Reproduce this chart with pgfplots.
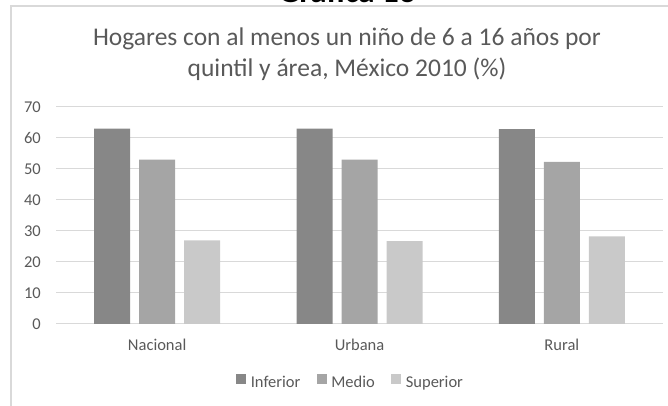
\documentclass[border=0pt]{standalone}
\usepackage{pgfplots}
\pgfplotsset{compat=1.18}
\usepackage{fontspec}
\setmainfont{Carlito}
\definecolor{txtgray}{HTML}{595959}
\definecolor{gridgray}{HTML}{D9D9D9}
\definecolor{cInf}{HTML}{878787}
\definecolor{cMed}{HTML}{A5A5A5}
\definecolor{cSup}{HTML}{C9C9C9}
\pgfplotstableread{
x inf med sup
0 63.0 53.0 27.0
1 63.0 53.0 26.7
2 62.9 52.3 28.3
}\datatable
\begin{document}
\begin{tikzpicture}[x=1pt,y=1pt]
\useasboundingbox (0,0) rectangle (668,406);
% heading cut at top
\node[anchor=base,font=\fontsize{33}{36}\selectfont\bfseries,text=black] at (347,403) {Gráfica 13};
% frame
\draw[gridgray,line width=1.2pt] (11,-2) -- (11,400) -- (670,400);
% title
\node[anchor=base,font=\fontsize{25.5}{30}\selectfont,text=txtgray] at (347,360) {Hogares con al menos un niño de 6 a 16 años por};
\node[anchor=base,font=\fontsize{25.5}{30}\selectfont,text=txtgray] at (347,329) {quintil y área, México 2010 (\%)};
\begin{axis}[
  at={(56pt,82pt)}, anchor=south west,
  scale only axis, width=607pt, height=217pt,
  ybar=9pt, bar width=36pt,
  xmin=-0.5, xmax=2.5, ymin=0, ymax=70,
  ytick={0,10,...,70},
  xtick={0,1,2}, xticklabels={Nacional,Urbana,Rural},
  ymajorgrids, grid style={color=gridgray,line width=1pt},
  axis line style={draw=none}, tick style={draw=none},
  major tick length=0pt,
  /pgf/number format/assume math mode=true,
  tick label style={font=\fontsize{16.5}{19}\selectfont,text=txtgray},
  yticklabel style={anchor=east,inner sep=0pt,xshift=-15pt},
  xticklabel style={anchor=base,inner sep=0pt,yshift=-27pt},
  legend style={at={(0.485,-0.272)},anchor=center,draw=none,fill=none,
    legend columns=3,font=\fontsize{16.5}{19}\selectfont,text=txtgray,
    nodes={inner sep=1.5pt,text height=11pt,text depth=3pt},
    /tikz/every even column/.append style={column sep=15pt}},
  legend image code/.code={\fill[#1,draw=none] (0pt,-1pt) rectangle (10pt,9pt);\path (13pt,4pt);},
]
\addplot[fill=cInf,draw=none] table[x=x,y=inf]{\datatable};
\addplot[fill=cMed,draw=none] table[x=x,y=med]{\datatable};
\addplot[fill=cSup,draw=none] table[x=x,y=sup]{\datatable};
\legend{Inferior,Medio,Superior}
\end{axis}
\end{tikzpicture}
\end{document}
